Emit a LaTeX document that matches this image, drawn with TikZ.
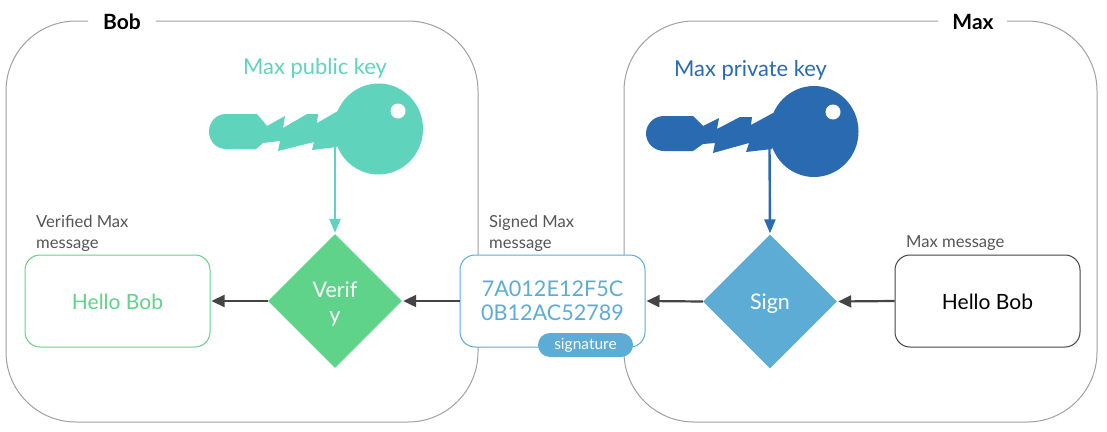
\documentclass[tikz,border=0pt]{standalone}
\usepackage{fontspec}
\setmainfont{Lato}
\usetikzlibrary{shapes.geometric,arrows.meta}
\definecolor{frameg}{HTML}{A0A0A0}
\definecolor{teal}{HTML}{5FD3BC}
\definecolor{greenv}{HTML}{5FD38A}
\definecolor{navy}{HTML}{2A6AB0}
\definecolor{sky}{HTML}{5CACD5}
\definecolor{dark}{HTML}{444444}
\definecolor{cap}{HTML}{555555}
\newcommand{\dropline}[2]{\raisebox{-#1pt}[0pt][0pt]{#2}}
\tikzset{
  framepath/.style={draw=frameg,line width=1pt,rounded corners=70pt},
  msgbox/.style={rectangle,rounded corners=15pt,minimum width=185pt,minimum height=92pt,fill=white,line width=1pt,inner sep=0pt,align=center},
  decision/.style={diamond,minimum width=134pt,minimum height=134pt,inner sep=0pt,align=center,text=white,font=\fontsize{21.5}{25}\selectfont},
  flow/.style={draw=dark,line width=2.2pt,-{Triangle[length=13pt,width=12pt]},shorten >=1pt},
  keyline/.style={line width=2.4pt,-{Triangle[length=14pt,width=11pt]},shorten >=1pt},
  caption/.style={anchor=north west,inner sep=0pt,align=left,text=cap,font=\fontsize{16.6}{21}\selectfont},
  keytitle/.style={inner sep=0pt,font=\fontsize{21.9}{26}\selectfont},
  owner/.style={inner sep=0pt,text=black,font=\fontsize{21}{24}\selectfont\bfseries}
}
\begin{document}
\begin{tikzpicture}[x=1pt,y=-1pt]
\useasboundingbox (0,0) rectangle (1107,431);
\fill[white] (0,0) rectangle (1107,431);
% frames
\draw[framepath] (88,21) -- (6,21) -- (6,422) -- (478,422) -- (478,21) -- (156,21);
\draw[framepath] (938,21) -- (624,21) -- (624,422) -- (1097,422) -- (1097,21) -- (1007,21);
\node[owner] (bob) at (122,22) {Bob};
\node[owner] (max) at (973,22) {Max};
% key anchors
\coordinate (pubkey) at (335,146);
\coordinate (privkey) at (769.5,148);
% nodes
\node[msgbox,draw=greenv,text=greenv,font=\fontsize{21}{24}\selectfont] (hello1) at (117.5,301) {\dropline{8}{Hello Bob}};
\node[msgbox,draw=sky,text=sky,font=\fontsize{21.6}{24}\selectfont] (signed) at (552.5,301) {\dropline{7.7}{7A012E12F5C}\\\dropline{7.7}{0B12AC52789}};
\node[msgbox,draw=dark,text=black,font=\fontsize{21}{24}\selectfont] (hello2) at (987.5,301) {\dropline{8}{Hello Bob}};
\node[decision,fill=greenv] (verify) at (335,301) {\dropline{8.5}{Verif}\\\dropline{8.5}{y}};
\node[decision,fill=sky] (sign) at (770,301.5) {\dropline{7.5}{Sign}};
\node[rectangle,rounded corners=12pt,fill=sky,text=white,minimum width=95pt,minimum height=24pt,inner sep=0pt,font=\fontsize{15.5}{18}\selectfont] (sig) at (585.5,345) {signature};
% connectors
\draw[keyline,draw=teal] (pubkey) -- (verify.north);
\draw[keyline,draw=navy] (privkey) -- (sign.north);
\draw[flow] (verify.west) -- (hello1.east);
\draw[flow] (signed.west) -- (verify.east);
\draw[flow] (sign.west) -- (signed.east);
\draw[flow] (hello2.west) -- (sign.east);
% teal key
\fill[teal] (257,114) -- (226,114) .. controls (216,114) and (209,122) .. (209,131.5) .. controls (209,141) and (216,149) .. (226,149) -- (256,149) -- (263,143) -- (280,141) -- (278,151) -- (314,142) -- (312,150) -- (337,147) -- (345,130) -- (338,111) -- (317,123) -- (318,114) -- (307,114) -- (283,128) -- (285,116) -- (267,126) -- cycle;
\fill[teal] (378.5,129) ellipse [x radius=44.5,y radius=45.5];
\fill[white] (398,111) circle [radius=7.5];
% navy key
\fill[navy] (693,116) -- (664,116) .. controls (654,116) and (646,124) .. (646,133.5) .. controls (646,143) and (654,151) .. (664,151) -- (693,151) -- (703,144) -- (715,143) -- (713,153) -- (749,143) -- (746,152) -- (772,149) -- (780,130) -- (773,113) -- (751,125) -- (752,117) -- (740,117) -- (717,129) -- (719,118) -- (703,126) -- cycle;
\fill[navy] (814,131.5) ellipse [x radius=44.5,y radius=45.5];
\fill[white] (833,112) circle [radius=7.5];
% labels
\node[keytitle,text=teal] (pubt) at (315,68) {Max public key};
\node[keytitle,text=navy] (privt) at (750.5,70) {Max private key};
\node[caption] (c1) at (36,215) {Verified Max\\message};
\node[caption] (c2) at (489,215) {Signed Max\\message};
\node[caption] (c3) at (906,235) {Max message};
\end{tikzpicture}
\end{document}
